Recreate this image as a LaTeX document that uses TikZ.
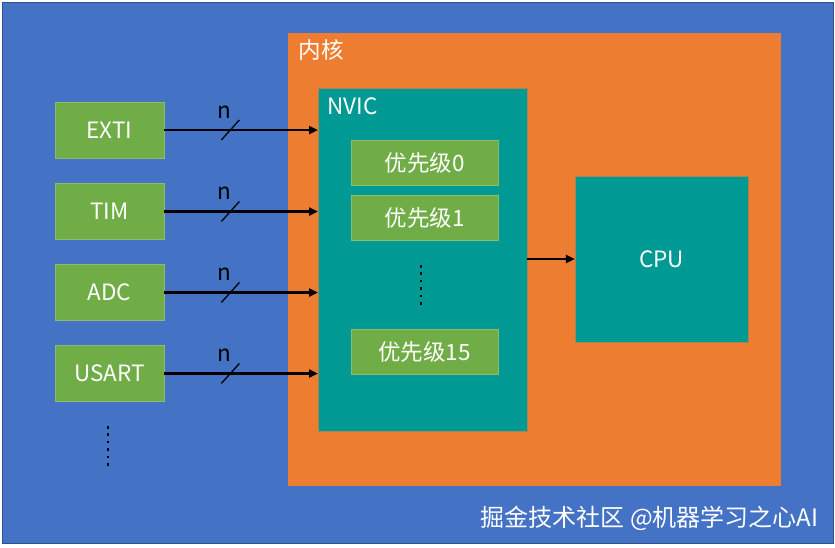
\documentclass[tikz,border=0pt]{standalone}
\usepackage{fontspec}
\setmainfont{Noto Sans CJK SC}
\usetikzlibrary{arrows.meta, decorations.markings}

\definecolor{bgblue}{RGB}{68,114,196}
\definecolor{bgedge}{RGB}{47,82,143}
\definecolor{coreorange}{RGB}{237,125,49}
\definecolor{nvicteal}{RGB}{0,153,148}
\definecolor{srcgreen}{RGB}{112,173,71}

\begin{document}
\begin{tikzpicture}[
    x=1pt, y=-1pt,
    font=\fontsize{22.5}{26}\selectfont,
    panel/.style={rectangle, inner sep=0pt, anchor=north west},
    source/.style={rectangle, inner sep=0pt, fill=srcgreen, draw=srcgreen!80!white, minimum width=109, minimum height=56, text=white},
    prio/.style={rectangle, inner sep=0pt, fill=srcgreen, draw=srcgreen!80!white, minimum width=147, minimum height=45, text=white},
    bus/.style={line width=2.6pt, -{Triangle[length=9pt,width=8pt]}, postaction={decorate},
        decoration={markings, mark=at position 0.43 with {\draw[-, line width=1.3pt] (-9,10) -- (9,-10);}}},
    link/.style={line width=2.6pt, -{Triangle[length=9pt,width=8pt]}},
    dotline/.style={line width=2.6pt, dash pattern=on 2.6pt off 4.8pt}
]
    \useasboundingbox (0,0) rectangle (835,547);

    % ================= FRAMES =================
    \node[panel, fill=bgblue, draw=bgedge, line width=1.2pt, minimum width=831, minimum height=541] (BG) at (2,2) {};
    \node[panel, fill=coreorange, minimum width=493, minimum height=453] (CORE) at (288,33) {};
    \node[anchor=west, text=white] (corelbl) at (295,50) {内核};
    \node[panel, fill=nvicteal, draw=coreorange!70!nvicteal, minimum width=209, minimum height=343] (NVIC) at (318,88) {};
    \node[anchor=west, text=white] (nviclbl) at (324,106) {NVIC};
    \node[rectangle, inner sep=0pt, fill=nvicteal, draw=coreorange!70!nvicteal, minimum width=173, minimum height=166, text=white] (CPU) at (661.5,259) {CPU};

    % ================= PRIORITIES =================
    \node[prio] (P0)  at (424.5,162.5) {优先级0};
    \node[prio] (P1)  at (424.5,218) {优先级1};
    \node[prio] (P15) at (424.5,352) {优先级15};
    \draw[dotline] (421,265) -- (421,305);

    % ================= SOURCES =================
    \node[source] (EXTI)  at (109.5,130) {EXTI};
    \node[source] (TIM)   at (109.5,211.5) {TIM};
    \node[source] (ADC)   at (109.5,292.5) {ADC};
    \node[source] (USART) at (109.5,373.5) {USART};
    \draw[dotline] (108,426) -- (108,468);

    % ================= CONNECTIONS =================
    \draw[bus] (EXTI.east)  -- (EXTI.east -| NVIC.west)  node[pos=0.39, above=7pt] {n};
    \draw[bus] (TIM.east)   -- (TIM.east -| NVIC.west)   node[pos=0.39, above=7pt] {n};
    \draw[bus] (ADC.east)   -- (ADC.east -| NVIC.west)   node[pos=0.39, above=7pt] {n};
    \draw[bus] (USART.east) -- (USART.east -| NVIC.west) node[pos=0.39, above=7pt] {n};
    \draw[link] (CPU.west -| NVIC.east) -- (CPU.west);

    % watermark
    \node[anchor=east, text=white, font=\fontsize{24}{28}\selectfont] (mark) at (822,518) {掘金技术社区 @机器学习之心AI};

\end{tikzpicture}
\end{document}
